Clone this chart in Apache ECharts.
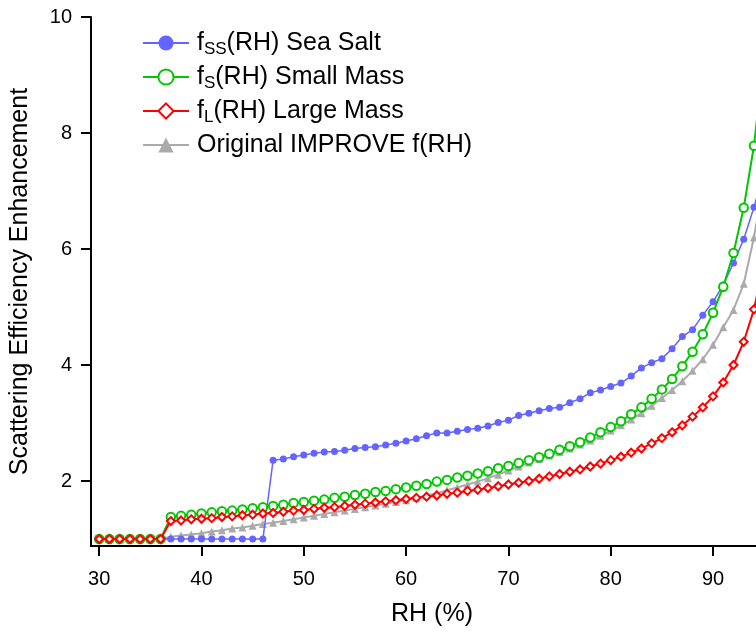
<!DOCTYPE html>
<html><head><meta charset="utf-8">
<script src="https://cdn.jsdelivr.net/npm/echarts@6/dist/echarts.min.js"></script>
<style>html,body{margin:0;padding:0;background:#fff}#c{width:756px;height:632px}</style>
</head><body><div id="c"></div>
<script>
const rh = [30,31,32,33,34,35,36,37,38,39,40,41,42,43,44,45,46,47,48,49,50,51,52,53,54,55,56,57,58,59,60,61,62,63,64,65,66,67,68,69,70,71,72,73,74,75,76,77,78,79,80,81,82,83,84,85,86,87,88,89,90,91,92,93,94,95];
const fSS = [1.00,1.00,1.00,1.00,1.00,1.00,1.00,1.00,1.00,1.00,1.00,1.00,1.00,1.00,1.00,1.00,1.00,
  2.36,2.38,2.42,2.45,2.48,2.50,2.51,2.53,2.56,2.58,2.59,2.62,2.65,2.69,2.73,2.78,2.83,2.83,2.86,2.89,2.91,2.95,3.01,3.05,3.13,3.17,3.21,3.25,3.27,3.35,3.42,3.52,3.57,3.63,3.69,3.81,3.95,4.04,4.11,4.28,4.49,4.61,4.86,5.09,5.38,5.76,6.17,6.72,7.35];
const fS = [1.00,1.00,1.00,1.00,1.00,1.00,1.00,
  1.38,1.40,1.42,1.44,1.46,1.48,1.49,1.51,1.53,1.55,1.57,1.59,1.62,1.64,1.66,1.68,1.71,1.73,1.76,1.78,1.81,1.83,1.86,1.89,1.92,1.95,1.99,2.02,2.06,2.09,2.13,2.17,2.22,2.26,2.31,2.36,2.41,2.47,2.54,2.60,2.67,2.75,2.84,2.93,3.03,3.15,3.27,3.42,3.58,3.76,3.98,4.23,4.53,4.90,5.35,5.93,6.71,7.78,9.34];
const fL = [1.00,1.00,1.00,1.00,1.00,1.00,1.00,
  1.31,1.32,1.34,1.35,1.36,1.38,1.39,1.41,1.42,1.44,1.45,1.47,1.49,1.50,1.52,1.54,1.55,1.57,1.59,1.61,1.63,1.65,1.67,1.69,1.71,1.73,1.75,1.78,1.80,1.83,1.85,1.88,1.91,1.94,1.97,2.00,2.04,2.08,2.12,2.16,2.20,2.25,2.30,2.36,2.42,2.49,2.56,2.65,2.74,2.84,2.96,3.11,3.27,3.46,3.70,4.00,4.40,4.96,5.79];
const fOrig = [1.00,1.00,1.00,1.00,1.00,1.00,1.00,
  1.04,1.06,1.08,1.10,1.13,1.15,1.18,1.20,1.23,1.26,1.28,1.31,1.34,1.37,1.40,1.43,1.46,1.49,1.52,1.55,1.58,1.61,1.64,1.67,1.71,1.75,1.79,1.84,1.89,1.94,1.99,2.05,2.11,2.18,2.25,2.32,2.38,2.44,2.50,2.56,2.63,2.70,2.78,2.87,2.96,3.06,3.17,3.30,3.43,3.57,3.72,3.90,4.10,4.35,4.65,4.95,5.40,6.20,7.20];
const xTicks = [30,40,50,60,70,80,90];
const yTicks = [2,4,6,8,10];
const seriesNames = ['fSS(RH) Sea Salt','fS(RH) Small Mass','fL(RH) Large Mass','Original IMPROVE f(RH)'];
const legendLabels = {
  'fSS(RH) Sea Salt': '{m|f}{s|SS}{m|(RH) Sea Salt}',
  'fS(RH) Small Mass': '{m|f}{s|S}{m|(RH) Small Mass}',
  'fL(RH) Large Mass': '{m|f}{s|L}{m|(RH) Large Mass}',
  'Original IMPROVE f(RH)': '{m|Original IMPROVE f(RH)}'
};
const FONT = 'Liberation Sans, Arial, sans-serif';
function pairs(arr){ return rh.map((x,i)=>[x, arr[i]]); }
function mk(name, arr, color, symbol, size, lw, z, bw){
  return { name, type:'line', data: pairs(arr), z, symbol, symbolSize: size, showAllSymbol: true,
    lineStyle:{color, width: lw}, itemStyle:{color, borderColor: color, borderWidth: bw},
    emphasis:{disabled:true}, animation:false };
}
const chart = echarts.init(document.getElementById('c'), null, {renderer:'canvas'});
chart.setOption({
  animation:false,
  grid:{left:91, right:0, top:17, bottom:85, containLabel:false},
  legend:{
    orient:'vertical', left:137, top:23, itemWidth:46, itemHeight:19, itemGap:4,
    data: seriesNames, formatter: n => legendLabels[n], selectedMode:false,
    textStyle:{fontFamily:FONT, fontSize:25, color:'#000', lineHeight:30, padding:[0,0,0,3],
      rich:{ m:{fontFamily:FONT, fontSize:25, lineHeight:30, color:'#000'},
             s:{fontFamily:FONT, fontSize:17, lineHeight:14, verticalAlign:'bottom', color:'#000'} } }
  },
  xAxis:{type:'value', min:29.2, max:94.2, name:'RH (%)', nameLocation:'middle', nameGap:56,
    nameTextStyle:{fontFamily:FONT, fontSize:25, color:'#000', padding:[0,0,0,17]},
    axisLine:{lineStyle:{color:'#000', width:2}},
    axisTick:{show:true, customValues:xTicks, length:10, inside:false, lineStyle:{color:'#000', width:2}},
    axisLabel:{customValues:xTicks, margin:23, fontFamily:FONT, fontSize:20, color:'#000'},
    splitLine:{show:false}},
  yAxis:{type:'value', min:0.88, max:10, name:'Scattering Efficiency Enhancement', nameLocation:'middle', nameGap:58,
    nameTextStyle:{fontFamily:FONT, fontSize:25, color:'#000'},
    axisLine:{show:true, lineStyle:{color:'#000', width:2}},
    axisTick:{show:true, customValues:yTicks, length:10, inside:false, lineStyle:{color:'#000', width:2}},
    axisLabel:{customValues:yTicks, margin:19, fontFamily:FONT, fontSize:20, color:'#000'},
    splitLine:{show:false}},
  series:[
    mk(seriesNames[3], fOrig, '#aaaaaa', 'triangle', 8, 2, 1, 0),
    mk(seriesNames[0], fSS, '#6464ff', 'circle', 7, 1.5, 2, 0),
    mk(seriesNames[1], fS, '#00c800', 'emptyCircle', 8.5, 2, 3, 1),
    mk(seriesNames[2], fL, '#ff0000', 'emptyDiamond', 8, 2, 4, 1)
  ]
});
</script></body></html>
